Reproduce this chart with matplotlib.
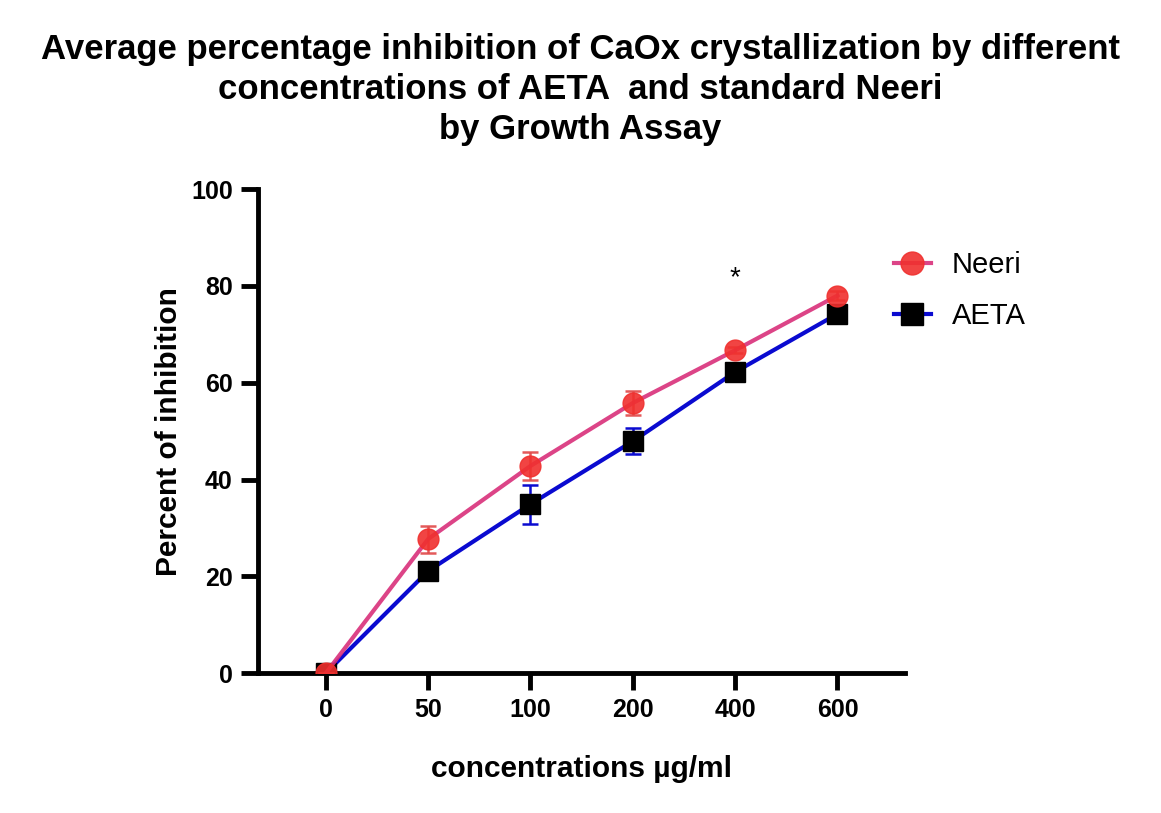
import matplotlib.pyplot as plt

plt.rcParams['font.family'] = ['Liberation Sans', 'DejaVu Sans']

# data
concentrations = ['0', '50', '100', '200', '400', '600']
neeri = [0, 27.7, 42.8, 55.8, 66.7, 78.0]
neeri_err = [0, 2.8, 2.9, 2.5, 0.6, 1.0]
aeta = [0, 21.1, 34.9, 47.9, 62.2, 74.2]
aeta_err = [0, 1.2, 4.0, 2.7, 1.0, 0.8]

x = list(range(len(concentrations)))

fig = plt.figure(figsize=(11.61, 8.13), dpi=100)
ax = fig.add_axes([0.222, 0.172, 0.5575, 0.5955])

aeta_h = ax.errorbar(x, aeta, yerr=aeta_err, color='#0a0ad0', lw=3, marker='s', ms=15,
                     mfc='black', mec='black', ecolor='#0a0ad0', elinewidth=1.8, capsize=6,
                     capthick=1.8, label='AETA', zorder=3)
neeri_h = ax.errorbar(x, neeri, yerr=neeri_err, color='#d9307a', lw=3, marker='o', ms=15,
                      mfc='#f0302e', mec='#f0302e', alpha=0.9, ecolor='#e04848', elinewidth=1.8,
                      capsize=6, capthick=1.8, label='Neeri', zorder=4)

ax.text(4, 81.5, '*', ha='center', va='center', fontsize=20)

ax.set_xlim(-0.665, 5.66)
ax.set_ylim(0, 100)
ax.set_xticks(x)
ax.set_xticklabels(concentrations)
ax.set_yticks(range(0, 101, 20))
for s in ['top', 'right']:
    ax.spines[s].set_visible(False)
for s in ['left', 'bottom']:
    ax.spines[s].set_linewidth(3.5)
ax.tick_params(width=3.5, length=12, labelsize=18, pad=6)
for lab in ax.get_xticklabels() + ax.get_yticklabels():
    lab.set_fontweight('bold')

ax.set_ylabel('Percent of inhibition', fontsize=21.5, fontweight='bold', labelpad=6)
ax.set_xlabel('concentrations µg/ml', fontsize=21.5, fontweight='bold', labelpad=24)

fig.suptitle('Average percentage inhibition of CaOx crystallization by different\n'
             'concentrations of AETA  and standard Neeri\nby Growth Assay',
             x=0.5, y=0.96, fontsize=25, fontweight='bold', linespacing=1.28)

fig.legend([neeri_h[0], aeta_h[0]], ['Neeri', 'AETA'], loc='upper left',
           bbox_to_anchor=(0.747, 0.723), frameon=False, fontsize=21,
           handlelength=1.3, handletextpad=0.7, labelspacing=0.78, markerscale=1.1)

fig.savefig('out.png', dpi=100)
